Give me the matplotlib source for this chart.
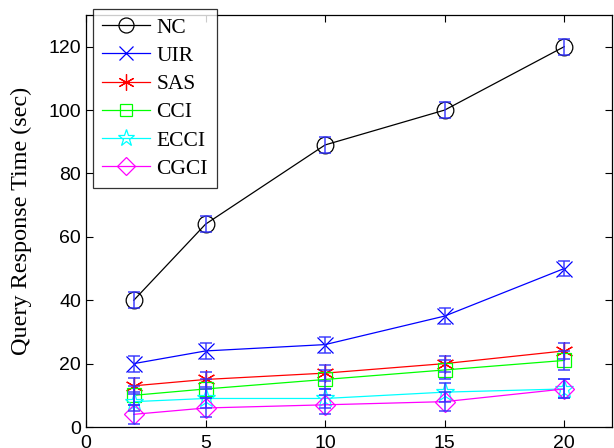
import matplotlib
matplotlib.use("Agg")
import matplotlib.pyplot as plt

x = [2, 5, 10, 15, 20]
nc = [40, 64, 89, 100, 120]
uir = [20, 24, 26, 35, 50]
sas = [13, 15, 17, 20, 24]
cci = [10, 12, 15, 18, 21]
ecci = [8, 9, 9, 11, 12]
cgci = [4, 6, 7, 8, 12]
err_nc = [2.5, 2.5, 2.5, 2.5, 2.5]
err_uir = [2.5, 2.5, 2.5, 2.5, 2.5]
err_sas = [2.5, 2.5, 2.5, 2.5, 2.5]
err_cci = [3, 3, 3, 3, 3]
err_ecci = [3, 3, 3, 3, 3]
err_cgci = [3, 3, 3, 3, 3]
names = ["NC", "UIR", "SAS", "CCI", "ECCI", "CGCI"]

fig = plt.figure(figsize=(6.14, 4.48), dpi=100)
ax = fig.add_axes([86/614, 21/448, 526/614, 412/448])

asterisk = (6, 2, 0)
styles = [
    (nc, err_nc, "black", "o", 12),
    (uir, err_uir, "blue", "x", 11),
    (sas, err_sas, "red", asterisk, 13),
    (cci, err_cci, (0, 1, 0), "s", 10),
    (ecci, err_ecci, "cyan", "*", 14),
    (cgci, err_cgci, "magenta", "D", 10),
]
handles = []
for (vals, errs, c, m, ms), name in zip(styles, names):
    h, = ax.plot(x, vals, color=c, lw=0.9, marker=m, ms=ms, mfc="none",
                 mec=c, mew=0.9, label=name)
    handles.append(h)
for (vals, errs, c, m, ms) in styles:
    ax.errorbar(x, vals, yerr=errs, fmt="none", ecolor=(0.2, 0.2, 1.0),
                elinewidth=1.2, capsize=4.5, capthick=1.2, alpha=0.85)

ax.set_xlim(0, 22)
ax.set_ylim(0, 130)
ax.set_xticks([0, 5, 10, 15, 20])
ax.set_yticks([0, 20, 40, 60, 80, 100, 120])
ax.tick_params(direction="in", top=True, right=True, length=5, width=0.8,
               labelsize=14)
ax.tick_params(axis="x", pad=6)
for lab in ax.get_xticklabels() + ax.get_yticklabels():
    lab.set_family(["Liberation Sans", "DejaVu Sans"])
for s in ax.spines.values():
    s.set_linewidth(0.9)
ax.set_ylabel("Query Response Time (sec)", fontsize=17.4,
              family=["Liberation Serif", "DejaVu Serif"], labelpad=12)

leg = fig.legend(handles=handles, loc="upper left",
                 bbox_to_anchor=(93/614, 1 - 9/448),
                 prop={"family": ["Liberation Serif"], "size": 15.5},
                 frameon=True, fancybox=False, edgecolor="black",
                 handlelength=2.25, labelspacing=0.38, borderpad=0.4,
                 handletextpad=0.3, borderaxespad=0, markerscale=0.9)
leg.get_frame().set_linewidth(0.9)

fig.savefig("out.png", dpi=100)
